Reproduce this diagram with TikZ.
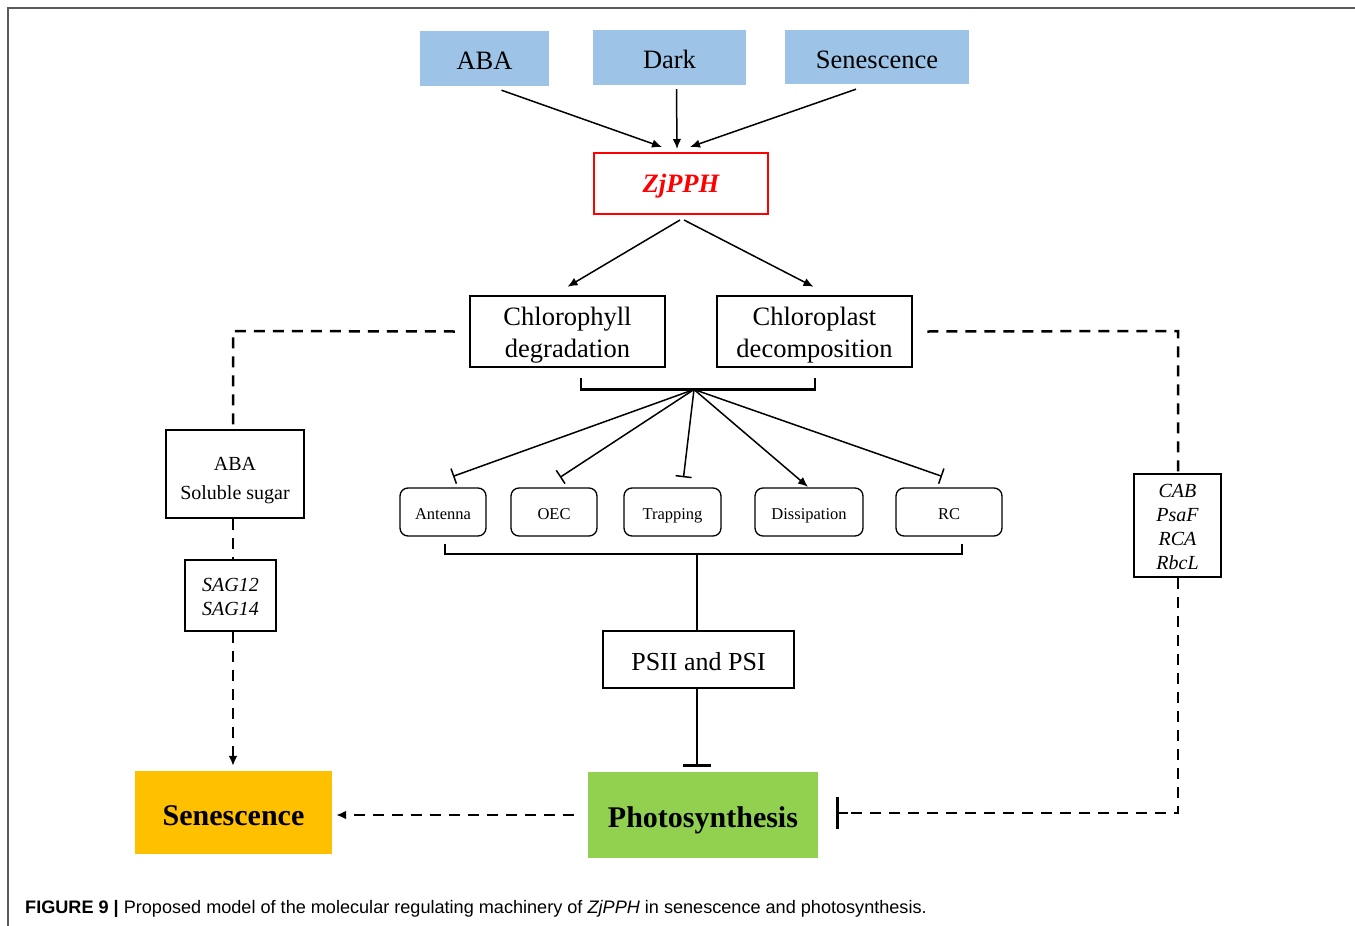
\documentclass[tikz,border=0pt]{standalone}
\usepackage{fontspec}
\setmainfont{Liberation Serif}
\newfontfamily\capfont{Liberation Sans}
\usetikzlibrary{arrows.meta,calc}
\definecolor{srcblue}{HTML}{9DC3E6}
\definecolor{zjred}{HTML}{FF0000}
\definecolor{photogreen}{HTML}{92D050}
\definecolor{senorange}{HTML}{FFC000}
\definecolor{framegray}{HTML}{5A5A5A}
\newcommand\dn[2]{\raisebox{-#1}[\height][\depth]{#2}}
\begin{document}
\begin{tikzpicture}[x=1pt,y=-1pt,
  src/.style={fill=srcblue, inner sep=0pt, font=\fontsize{26.5}{32}\selectfont},
  ibox/.style={draw, line width=2.5pt, inner sep=0pt, align=center},
  rbox/.style={draw, rounded corners=8pt, line width=1.3pt, inner sep=0pt, minimum height=48pt, font=\fontsize{16.5}{20}\selectfont},
  arr/.style={line width=1.5pt, -{Latex[length=10pt,width=8.5pt]}},
  tee/.style={line width=1.5pt, -{Bar[width=16pt]}},
  dsh/.style={line width=2.5pt, dash pattern=on 11pt off 8pt},
  big/.style={inner sep=0pt, font=\fontsize{30}{36}\selectfont\bfseries}
]
\useasboundingbox (0,0) rectangle (1355,926);
\draw[framegray, line width=1.5pt] (8,926) -- (8,8) -- (1355,8);

% sources
\node[src, minimum width=129pt, minimum height=55pt] (aba) at (484.5,58.5) {\dn{2pt}{ABA}};
\node[src, minimum width=153pt, minimum height=55pt] (dark) at (669.5,57.5) {\dn{2pt}{Dark}};
\node[src, minimum width=184pt, minimum height=54pt] (sen0) at (877,57) {\dn{3pt}{Senescence}};

% ZjPPH
\node[ibox, draw=zjred, line width=2pt, minimum width=174pt, minimum height=61pt,
      text=zjred, font=\fontsize{26.5}{32}\selectfont\bfseries\itshape] (zj) at (681,183.5) {\dn{3pt}{ZjPPH}};

\draw[arr] ([xshift=17pt,yshift=-4pt]aba.south) -- ([xshift=-19pt,yshift=5pt]zj.north);
\draw[arr] ([xshift=7pt,yshift=-4pt]dark.south) -- ([xshift=-4pt,yshift=3pt]zj.north);
\draw[arr] ([xshift=-21pt,yshift=-5pt]sen0.south) -- ([xshift=9pt,yshift=5pt]zj.north);

% chlorophyll / chloroplast
\node[ibox, minimum width=195pt, minimum height=71pt, font=\fontsize{26.5}{32}\selectfont] (chl) at (567.5,331.5) {\dn{4pt}{Chlorophyll}\\\dn{4pt}{degradation}};
\node[ibox, minimum width=195pt, minimum height=71pt, font=\fontsize{26.5}{32}\selectfont] (clp) at (814.5,331.5) {\dn{4pt}{Chloroplast}\\\dn{4pt}{decomposition}};

\draw[arr] ([xshift=-1pt,yshift=-5pt]zj.south) -- ([xshift=0pt,yshift=8pt]chl.north);
\draw[arr] ([xshift=3pt,yshift=-5pt]zj.south) -- ([xshift=-1pt,yshift=8pt]clp.north);

% top bracket
\coordinate (bl) at (581,378);
\coordinate (br) at (815,378);
\coordinate (hub) at (694,389.5);
\draw[line width=2.5pt] (bl) |- (hub) -| (br);

% component boxes
\node[rbox, minimum width=86pt] (ant) at (443,512) {\dn{2pt}{Antenna}};
\node[rbox, minimum width=86pt] (oec) at (554,512) {\dn{2pt}{OEC}};
\node[rbox, minimum width=97pt] (trap) at (672.5,512) {\dn{4pt}{Trapping}};
\node[rbox, minimum width=108pt] (diss) at (809,512) {\dn{4pt}{Dissipation}};
\node[rbox, minimum width=106pt] (rc) at (949,512) {\dn{2pt}{RC}};

\draw[tee] (hub) -- ([xshift=10pt,yshift=11pt]ant.north);
\draw[tee] (hub) -- ([xshift=6pt,yshift=10pt]oec.north);
\draw[tee] (hub) -- ([xshift=11pt,yshift=10pt]trap.north);
\draw[arr] (hub) -- ([xshift=-1pt,yshift=0.5pt]diss.north);
\draw[tee] (hub) -- ([xshift=-7pt,yshift=11pt]rc.north);

% bottom bracket
\coordinate (cl) at (445,544);
\coordinate (cr) at (962,544);
\coordinate (hub2) at (697,554);
\draw[line width=2.5pt] (cl) |- (hub2) -| (cr);

% PSII and PSI
\node[ibox, minimum width=191pt, minimum height=57pt, font=\fontsize{26}{32}\selectfont] (ps) at (698.5,659.5) {\dn{2pt}{PSII and PSI}};
\draw[line width=2.5pt] (hub2) -- (hub2 |- ps.north);

% outputs
\node[big, fill=photogreen, minimum width=230pt, minimum height=86pt] (photo) at (703,815) {\dn{5pt}{Photosynthesis}};
\node[big, fill=senorange, minimum width=197pt, minimum height=83pt] (sen) at (233.5,812.5) {\dn{3pt}{Senescence}};

\draw[line width=2.5pt, -{Bar[width=28pt,line width=2.5pt]}] (ps.south -| hub2) -- ([yshift=5pt]photo.north -| hub2);

\draw[dsh, -{Latex[length=10pt,width=9pt]}] ([xshift=-14pt]photo.west) -- ([xshift=4pt]sen.east |- photo.west);

% left branch
\node[ibox, minimum width=138pt, minimum height=88pt, font=\fontsize{20}{29}\selectfont] (abab) at (235,474) {\dn{7pt}{ABA}\\\dn{7pt}{Soluble sugar}};
\node[ibox, minimum width=91pt, minimum height=71pt, font=\fontsize{20}{24}\selectfont\itshape] (sag) at (230.5,595.5) {\dn{1pt}{SAG12}\\\dn{1pt}{SAG14}};
\coordinate (lc) at (233,331);
\draw[dsh] ([xshift=-14pt]chl.west) -- (lc) -- (lc |- abab.north);
\draw[dsh] (lc |- abab.south) -- (lc |- sag.north);
\draw[dsh, -{Latex[length=10pt,width=9pt]}] (lc |- sag.south) -- ([yshift=5pt]sen.north -| lc);

% right branch
\node[ibox, minimum width=87pt, minimum height=103pt, font=\fontsize{20}{24}\selectfont\itshape] (cab) at (1177.5,525.5) {\dn{1pt}{CAB}\\\dn{1pt}{PsaF}\\\dn{1pt}{RCA}\\\dn{1pt}{RbcL}};
\coordinate (rc1) at (1178,331);
\coordinate (rc2) at (1178,813);
\draw[dsh] ([xshift=14pt]clp.east) -- (rc1) -- (rc1 |- cab.north);
\draw[dsh] (rc1 |- cab.south) -- (rc2) -- ([xshift=18pt]photo.east |- rc2);
\draw[line width=2.5pt, -{Bar[width=32pt,line width=2.5pt]}] ([xshift=30pt]photo.east |- rc2) -- ([xshift=18pt]photo.east |- rc2);

% caption
\node[anchor=west, inner sep=0pt, font=\capfont\fontsize{18.1}{21}\selectfont] (cap) at (25,909)
  {\textbf{FIGURE 9 |} Proposed model of the molecular regulating machinery of \textit{ZjPPH} in senescence and photosynthesis.};
\end{tikzpicture}
\end{document}
